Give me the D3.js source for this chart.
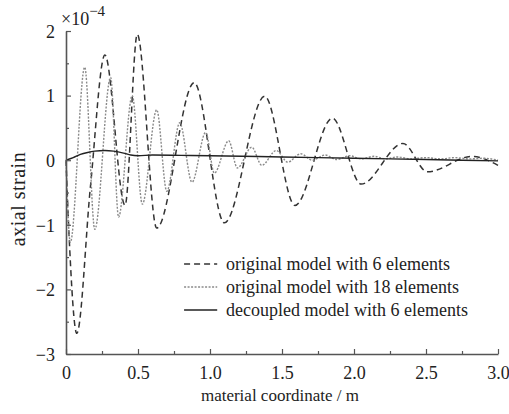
<!DOCTYPE html>
<html><head><meta charset="utf-8">
<script src="https://cdn.jsdelivr.net/npm/d3@7/dist/d3.min.js"></script>
<style>
body{margin:0;background:#fff;}
text{font-family:"Liberation Serif","Times New Roman",serif;fill:#222;}
</style></head>
<body><svg id="c" width="509" height="414"></svg>
<script>
// axial strain (×10^-4) vs material coordinate (m)
const dashedX = [0,0.02,0.075,0.17,0.27,0.41,0.495,0.63,0.89,1.1,1.38,1.59,1.85,2.05,2.34,2.51,2.82,3.0];
const dashedY = [0,-1.1,-2.68,-0.4,1.63,-0.7,1.95,-1.05,1.2,-0.97,0.99,-0.7,0.65,-0.37,0.26,-0.18,0.06,-0.08];
const dottedX = [0,0.03,0.13,0.2,0.31,0.365,0.46,0.53,0.63,0.70,0.79,0.875,0.97,1.03,1.13,1.19,1.29,1.36,1.46,1.54,1.63,1.71,1.8,1.88,1.97,2.05,2.14,2.22,2.3,2.4,2.5,2.6,2.7,2.8,2.9,3.0];
const dottedY = [0,-1.27,1.44,-1.07,1.28,-0.88,1.0,-0.68,0.78,-0.48,0.58,-0.34,0.43,-0.2,0.3,-0.12,0.2,-0.08,0.15,-0.03,0.1,0.0,0.08,0.01,0.07,0.02,0.06,0.02,0.05,0.02,0.04,0.02,0.04,0.02,0.03,0.0];
const solidX = [0,0.05,0.1,0.15,0.2,0.27,0.33,0.4,0.45,0.5,0.6,0.8,1.0,1.5,2.0,2.5,3.0];
const solidY = [0,0.04,0.09,0.12,0.14,0.15,0.14,0.11,0.08,0.07,0.08,0.075,0.07,0.05,0.03,0.01,-0.01];
const xTicks = [0,0.5,1.0,1.5,2.0,2.5,3.0];
const xTickLabels = ["0","0.5","1.0","1.5","2.0","2.5","3.0"];
const yTicks = [-3,-2,-1,0,1,2];
const yTickLabels = ["\u22123","\u22122","\u22121","0","1","2"];
const legendLabels = ["original model with 6 elements","original model with 18 elements","decoupled model with 6 elements"];

const svg = d3.select("#c");
const x = d3.scaleLinear().domain([0,3]).range([66,498]);
const y = d3.scaleLinear().domain([-3,2]).range([354,31]);

const series = [
  {xs:dashedX, ys:dashedY, stroke:"#333", w:1.5, dash:"6,4"},
  {xs:dottedX, ys:dottedY, stroke:"#8a8a8a", w:1.4, dash:"2,1.5"},
  {xs:solidX, ys:solidY, stroke:"#222", w:1.4, dash:null}
];
const line = d3.line().x(d=>x(d[0])).y(d=>y(d[1])).curve(d3.curveMonotoneX);
series.forEach(s=>{
  const pts = s.xs.map((v,i)=>[v,s.ys[i]]);
  svg.append("path").attr("d",line(pts)).attr("fill","none")
    .attr("stroke",s.stroke).attr("stroke-width",s.w)
    .attr("stroke-dasharray",s.dash);
});

// axes
const xAxis = d3.axisBottom(x).tickValues(xTicks).tickFormat((d,i)=>xTickLabels[i]).tickSizeInner(-5).tickSizeOuter(0).tickPadding(12);
const gx = svg.append("g").attr("transform","translate(0,354)").call(xAxis);
const xMinor = d3.axisBottom(x).tickValues(d3.range(0.25,3,0.5)).tickFormat("").tickSizeInner(-3).tickSizeOuter(0);
svg.append("g").attr("transform","translate(0,354)").call(xMinor).select(".domain").remove();
const yAxis = d3.axisLeft(y).tickValues(yTicks).tickFormat((d,i)=>yTickLabels[i]).tickSizeInner(-5).tickSizeOuter(0).tickPadding(11);
const gy = svg.append("g").attr("transform","translate(66,0)").call(yAxis);
const yMinor = d3.axisLeft(y).tickValues(d3.range(-2.5,2,1)).tickFormat("").tickSizeInner(-3).tickSizeOuter(0);
svg.append("g").attr("transform","translate(66,0)").call(yMinor).select(".domain").remove();
svg.selectAll(".domain").attr("stroke","#555").attr("stroke-width",1.6);
svg.selectAll(".tick line").attr("stroke","#555").attr("stroke-width",1.2);
svg.selectAll(".tick text").style("font-family","'Liberation Serif',serif").style("font-size","18px").attr("fill","#222");
gy.selectAll(".tick text").attr("dy","0.35em");

// exponent
const ex = svg.append("text").attr("x",61).attr("y",25).style("font-size","18px");
ex.append("tspan").text("\u00d710");
ex.append("tspan").attr("dy",-9).style("font-size","15px").text("\u22124");

// axis titles
svg.append("text").attr("x",280).attr("y",401).attr("text-anchor","middle").style("font-size","17px").text("material coordinate / m");
svg.append("text").attr("transform","translate(25,199) rotate(-90)").attr("text-anchor","middle").style("font-size","20px").style("letter-spacing","0.5px").text("axial strain");

// legend
const ly = [264,287,310];
series.forEach((s,i)=>{
  svg.append("line").attr("x1",x(0.82)).attr("x2",x(1.05)).attr("y1",ly[i]).attr("y2",ly[i])
    .attr("stroke",s.stroke).attr("stroke-width",s.w).attr("stroke-dasharray",s.dash);
  svg.append("text").attr("x",226).attr("y",ly[i]+6).style("font-size","18px").text(legendLabels[i]);
});
</script></body></html>
